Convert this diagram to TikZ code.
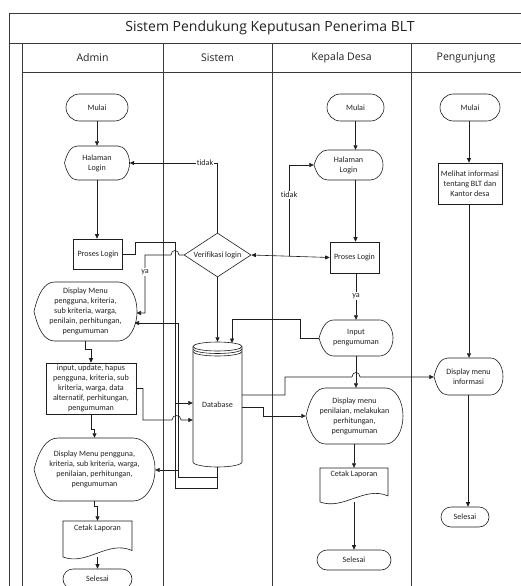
\documentclass[tikz,border=0pt]{standalone}
\usepackage{fontspec}
\setmainfont{Carlito}[Ligatures=NoCommon]
\newfontfamily\titlefont{Open Sans}
\usetikzlibrary{arrows.meta,shapes.geometric}
\definecolor{ln}{HTML}{1E1E1E}
\definecolor{fr}{HTML}{3A3A3A}
\definecolor{txt}{HTML}{222222}
\tikzset{
  nd/.style={inner sep=0pt, align=center, text=txt, font=\fontsize{8.1}{10}\selectfont},
  shp/.style={draw=ln, line width=0.6pt},
  frame/.style={draw=fr, line width=0.8pt},
  hdr/.style={text=txt, font=\titlefont\fontsize{10.5}{12}\selectfont},
  arr/.style={draw=ln, line width=0.6pt, -{Triangle[length=4.5pt,width=4pt]}},
  arrb/.style={draw=ln, line width=0.6pt, {Triangle[length=4.5pt,width=4pt]}-{Triangle[length=4.5pt,width=4pt]}},
  cn/.style={draw=ln, line width=0.6pt},
  lbl/.style={fill=white, inner sep=1pt, text=txt, font=\fontsize{8.1}{10}\selectfont}
}
% display shape: name, cx, cy, w, h, text
\newcommand\dispnode[6]{%
  \node[nd, minimum width=#4pt, minimum height=#5pt] (#1) at (#2,#3) {#6};
  \draw[shp] ({#2-#4/2},#3)
    .. controls ({#2-#4/2+0.04*#4},{#3-0.3*#5}) and ({#2-#4/2+0.1*#4},{#3-#5/2}) .. ({#2-#4/2+0.2*#4},{#3-#5/2})
    -- ({#2+#4/2-0.18*#4},{#3-#5/2})
    .. controls ({#2+#4/2-0.08*#4},{#3-#5/2}) and ({#2+#4/2},{#3-0.275*#5}) .. ({#2+#4/2},#3)
    .. controls ({#2+#4/2},{#3+0.275*#5}) and ({#2+#4/2-0.08*#4},{#3+#5/2}) .. ({#2+#4/2-0.18*#4},{#3+#5/2})
    -- ({#2-#4/2+0.2*#4},{#3+#5/2})
    .. controls ({#2-#4/2+0.1*#4},{#3+#5/2}) and ({#2-#4/2+0.04*#4},{#3+0.3*#5}) .. cycle;
}
% document shape: name, cx, cy, w, h, text
\newcommand\docnode[6]{%
  \node[minimum width=#4pt, minimum height=#5pt, inner sep=0pt] (#1) at (#2,#3) {};
  \node[nd] (#1t) at (#2,{#3-0.3*#5}) {#6};
  \draw[shp] ({#2-#4/2},{#3+0.5*#5}) -- ({#2-#4/2},{#3-#5/2}) -- ({#2+#4/2},{#3-#5/2}) -- ({#2+#4/2},{#3+0.32*#5})
    .. controls ({#2+0.15*#4},{#3+0.02*#5}) and ({#2-0.15*#4},{#3+0.75*#5}) .. cycle;
}
% terminal: name, cx, cy, w, h, text
\newcommand\termnode[6]{%
  \node[nd, draw=ln, line width=0.6pt, rounded corners={#5pt/2}, minimum width=#4pt, minimum height=#5pt] (#1) at (#2,#3) {#6};
}
% rectangle: name, cx, cy, w, h, text
\newcommand\rectnode[6]{%
  \node[nd, draw=ln, line width=0.6pt, minimum width=#4pt, minimum height=#5pt] (#1) at (#2,#3) {#6};
}
\begin{document}
\begin{tikzpicture}[x=1pt,y=-1pt]
\useasboundingbox (0,0) rectangle (521,586);
\fill[white] (0,0) rectangle (521,586);
\begin{scope}
\clip (0,0) rectangle (521,586);
% frame and lanes
\draw[frame] (530,13) -- (9,13) -- (9,600);
\draw[frame] (9,43) -- (530,43);
\draw[frame] (22,72) -- (530,72);
\draw[frame] (22,43) -- (22,600);
\draw[frame] (163,43) -- (163,600);
\draw[frame] (272,43) -- (272,600);
\draw[frame] (411,43) -- (411,600);
\node[text=txt, font=\titlefont\fontsize{14}{16}\selectfont] (title) at (270,28) {Sistem Pendukung Keputusan Penerima BLT};
\node[hdr] (hA) at (92.5,57.5) {Admin};
\node[hdr] (hS) at (217.5,57.5) {Sistem};
\node[hdr] (hK) at (341.5,57.5) {Kepala Desa};
\node[hdr] (hP) at (466,57.5) {Pengunjung};

% Admin lane
\termnode{aMulai}{97}{107.5}{62}{27}{Mulai}
\dispnode{aHal}{97}{163}{65}{34}{Halaman\\Login}
\rectnode{aPro}{98}{254}{49}{30}{Proses Login}
\dispnode{aDisp1}{85.5}{311.5}{103}{59}{Display Menu\\pengguna, kriteria,\\sub kriteria, warga,\\penilain, perhitungan,\\pengumuman}
\rectnode{aInput}{91}{388.5}{90}{51}{input, update, hapus\\pengguna, kriteria, sub\\kriteria, warga, data\\alternatif, perhitungan,\\pengumuman}
\dispnode{aDisp2}{94.5}{469.5}{121}{63}{Display Menu pengguna,\\kriteria, sub kriteria, warga,\\penilaian, perhitungan,\\pengumuman}
\docnode{aCetak}{97.5}{539}{69}{36}{Cetak Laporan}
\termnode{aSel}{97.5}{579}{69}{20}{Selesai}

% Sistem lane
\node[nd, draw=ln, line width=0.6pt, shape=diamond, aspect=1.52, minimum width=67pt, minimum height=44pt] (verif) at (217.5,255) {Verifikasi login};
\node[nd, minimum width=49pt, minimum height=125pt] (db) at (217.5,404.5) {Database};
\draw[shp] (193,346.5) -- (193,462) arc[start angle=180, end angle=360, x radius=24.5pt, y radius=5pt] -- (242,346.5);
\draw[shp] (217.5,346.5) ellipse [x radius=24.5pt, y radius=4.5pt];
\draw[shp] (193,349) arc[start angle=180, end angle=360, x radius=24.5pt, y radius=4.5pt];
\draw[shp] (193,351.5) arc[start angle=180, end angle=360, x radius=24.5pt, y radius=4.5pt];

% Kepala Desa lane
\termnode{kMulai}{355.5}{107.5}{57}{27}{Mulai}
\dispnode{kHal}{348.5}{165}{69}{30}{Halaman\\Login}
\rectnode{kPro}{354.5}{257.5}{49}{31}{Proses Login}
\dispnode{kInput}{356}{338}{74}{36}{Input\\pengumuman}
\dispnode{kDisp}{354.5}{416}{97}{56}{Display menu\\penilaian, melakukan\\perhitungan,\\pengumuman}
\docnode{kCetak}{354}{485}{68}{34}{Cetak Laporan}
\termnode{kSel}{354}{560}{74}{20}{Selesai}

% Pengunjung lane
\termnode{pMulai}{470}{107.5}{60}{27}{Mulai}
\rectnode{pLihat}{470}{183.5}{64}{41}{Melihat informasi\\tentang BLT dan\\Kantor desa}
\dispnode{pDisp}{468.5}{376.5}{69}{37}{Display menu\\informasi}
\termnode{pSel}{465}{517}{48}{20}{Selesai}

% Admin connectors
\draw[arr] (aMulai.south) -- (aMulai.south |- aHal.north);
\draw[arr] (aHal.south) -- (aHal.south |- aPro.north);
\draw[arr] (aPro.east) -- (135,254) -- (135,242) -- (175,242) -- (175,403) -- (db.west |- 0,403);
\draw[cn] (175,403) -- (175,488) -- (217.5,488) -- (db.south);
\draw[arr] (db.south) -- (217.5,477) -- (178,477) -- (178,323) -- (134.5,323);
\draw[arr] (178,470) -- (aDisp2.east |- 0,470);
\draw[arr] (aInput.east) -- (143,388.5) -- (143,420) -- (172,420) .. controls (172,414) and (181,414) .. (181,420) -- (db.west |- 0,420);
\draw[arr] (aDisp1.south) -- (85.5,349) -- (91,349) -- (aInput.north);
\draw[arr] (aInput.south) -- (91,429) -- (94.5,429) -- (aDisp2.north);
\draw[arr] (aDisp2.south) -- (94.5,506) -- (97.5,506) -- (aCetak.north);
\draw[arr] (aCetak.south) -- (aSel.north);

% Sistem connectors
\draw[arr] (verif.west) -- (179,255) .. controls (179,249) and (171,249) .. (171,255) -- (145,255) -- (145,313) -- (136.5,313);
\node[lbl] (lya1) at (145,272) {ya};
\draw[arr] (verif.north) -- (217.5,163) -- (aHal.east);
\node[lbl] (ltd1) at (205,163) {tidak};
\draw[arr] (verif.south) -- (db.north);
\draw[arrb] (verif.east) -- (kPro.west);
\draw[arr] (289,256) -- (289,165) -- (kHal.west);
\node[lbl] (ltd2) at (289,195) {tidak};

% Kepala Desa connectors
\draw[arr] (kMulai.south) -- (kMulai.south |- kHal.north);
\draw[arr] (kMulai.south |- kHal.south) -- (kMulai.south |- kPro.north);
\draw[arr] (kPro.south -| kInput.north) -- (kInput.north);
\node[lbl] (lya2) at (356,296) {ya};
\draw[arr] (kInput.west) -- (300,338) -- (300,319) -- (232,319) -- (232,343);
\draw[arr] (kInput.south) -- (kInput.south |- kDisp.north);
\draw[arr] (db.east |- 0,395) -- (285,395) -- (285,377) -- (352,377) .. controls (352,371) and (360,371) .. (360,377) -- (pDisp.west |- 0,377);
\draw[arr] (db.east |- 0,407) -- (263,407) -- (263,416) -- (kDisp.west);
\draw[arr] (kDisp.south -| kCetak.north) -- (kCetak.north);
\draw[arr] (kCetak.south) -- (kSel.north);

% Pengunjung connectors
\draw[arr] (pMulai.south -| 469,0) -- (pLihat.north -| 469,0);
\draw[arr] (pLihat.south -| 469,0) -- (pDisp.north -| 469,0);
\draw[arr] (pDisp.south -| 468,0) -- (pSel.north -| 468,0);
\end{scope}
\end{tikzpicture}
\end{document}
